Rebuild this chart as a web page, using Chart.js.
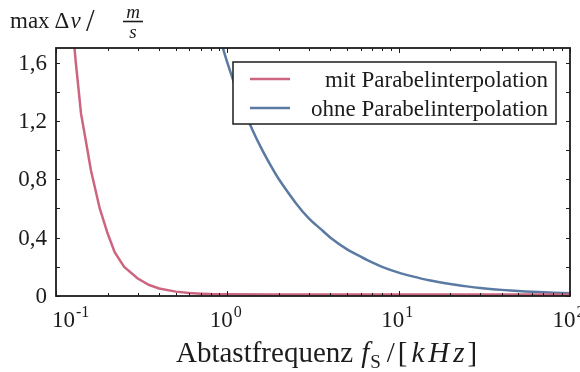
<!DOCTYPE html>
<html>
<head>
<meta charset="utf-8">
<script src="https://cdn.jsdelivr.net/npm/chart.js@4.4.1/dist/chart.umd.min.js"></script>
<style>
  html, body { margin: 0; padding: 0; background: #fff; }
</style>
</head>
<body>
<canvas id="dv" width="580" height="372"></canvas>
<script>
// Abtastfrequenz in kHz, max. Geschwindigkeitsfehler in m/s
var fMit  = [0.1, 0.11, 0.12, 0.13, 0.14, 0.15, 0.16, 0.18, 0.2, 0.22, 0.25, 0.3, 0.35, 0.4, 0.5, 0.6, 0.7, 0.8, 1, 2, 5, 10, 20, 50, 100];
var dvMit = [3.3, 2.7, 2.1, 1.62, 1.25, 1.05, 0.86, 0.6, 0.43, 0.3, 0.2, 0.12, 0.075, 0.052, 0.03, 0.02, 0.016, 0.013, 0.012, 0.011, 0.01, 0.01, 0.01, 0.01, 0.01];

var fOhne  = [0.8, 0.9, 1, 1.2, 1.4, 1.6, 1.8, 2, 2.5, 3, 3.5, 4, 5, 6, 7, 8, 10, 12, 15, 20, 25, 30, 40, 50, 60, 70, 80, 100];
var dvOhne = [2.0, 1.78, 1.6, 1.33, 1.14, 1.0, 0.89, 0.8, 0.64, 0.53, 0.46, 0.4, 0.32, 0.27, 0.23, 0.2, 0.16, 0.135, 0.108, 0.082, 0.066, 0.055, 0.042, 0.034, 0.029, 0.025, 0.022, 0.018];

var labelMit  = "mit Parabelinterpolation";
var labelOhne = "ohne Parabelinterpolation";

var xTicks = [0.1, 1, 10, 100];
var xExponents = ["-1", "0", "1", "2"];
var yTicks = [0, 0.4, 0.8, 1.2, 1.6];
var yTickLabels = ["0", "0,4", "0,8", "1,2", "1,6"];

var colMit = "#cc6680";
var colOhne = "#5b7aa3";
var ink = "#1c1c1c";
var serif = "'Liberation Serif', 'DejaVu Serif', serif";

function toPoints(xs, ys) {
  var pts = [];
  for (var i = 0; i < xs.length; i++) pts.push({ x: xs[i], y: ys[i] });
  return pts;
}

// Text in Stuecken mit eigener Schrift, Versatz und Abstand
function drawParts(ctx, parts, x, y) {
  parts.forEach(function (p) {
    ctx.font = p.f;
    x += p.pre || 0;
    ctx.fillText(p.t, x, y + (p.dy || 0));
    x += ctx.measureText(p.t).width;
  });
}

// Rahmen, Ticks nach innen, Beschriftung und Legende
var framePlugin = {
  id: 'frame',
  afterDraw: function (chart) {
    var ctx = chart.ctx;
    var a = chart.chartArea;
    var xs = chart.scales.x, ys = chart.scales.y;
    ctx.save();

    // Legende
    var lx = 233, ly = 62, lw = 323, lh = 62;
    ctx.fillStyle = '#fff';
    ctx.fillRect(lx, ly, lw, lh);
    ctx.strokeStyle = ink;
    ctx.lineWidth = 1.5;
    ctx.strokeRect(lx, ly, lw, lh);
    var rows = [
      { label: chart.data.datasets[0].label, color: chart.data.datasets[0].borderColor, y: 79 },
      { label: chart.data.datasets[1].label, color: chart.data.datasets[1].borderColor, y: 108 }
    ];
    ctx.font = '23px ' + serif;
    ctx.textAlign = 'right';
    ctx.textBaseline = 'alphabetic';
    rows.forEach(function (r) {
      ctx.strokeStyle = r.color;
      ctx.lineWidth = 2.5;
      ctx.beginPath();
      ctx.moveTo(250, r.y);
      ctx.lineTo(290, r.y);
      ctx.stroke();
      ctx.fillStyle = ink;
      ctx.fillText(r.label, 548, r.y + 8);
    });

    // Rahmen
    ctx.strokeStyle = ink;
    ctx.lineWidth = 1.8;
    ctx.strokeRect(a.left, a.top, a.right - a.left, a.bottom - a.top);

    // Ticks
    ctx.lineWidth = 1;
    ctx.beginPath();
    for (var v = 0; v <= 1.7; v += 0.2) {
      var py = Math.round(ys.getPixelForValue(v)) + 0.5;
      ctx.moveTo(a.left, py); ctx.lineTo(a.left + 4, py);
      ctx.moveTo(a.right, py); ctx.lineTo(a.right - 4, py);
    }
    for (var d = 0.1; d < 100; d *= 10) {
      for (var m = 1; m <= 10; m++) {
        var px = Math.round(xs.getPixelForValue(d * m)) + 0.5;
        var len = (m === 1 || m === 10) ? 5 : 3;
        ctx.moveTo(px, a.bottom); ctx.lineTo(px, a.bottom - len);
        ctx.moveTo(px, a.top); ctx.lineTo(px, a.top + len);
      }
    }
    ctx.stroke();

    // y-Beschriftung
    ctx.fillStyle = ink;
    ctx.font = '23px ' + serif;
    ctx.textAlign = 'right';
    ctx.textBaseline = 'middle';
    yTicks.forEach(function (t, i) {
      ctx.fillText(yTickLabels[i], 47, ys.getPixelForValue(t) + 1);
    });

    // x-Beschriftung als Zehnerpotenzen
    ctx.textAlign = 'left';
    ctx.textBaseline = 'alphabetic';
    xTicks.forEach(function (t, i) {
      var px = xs.getPixelForValue(t);
      ctx.font = '23px ' + serif;
      var w10 = ctx.measureText('10').width;
      var x0 = Math.max(px - w10 / 2 - 6, 52);
      ctx.fillText('10', x0, 327);
      ctx.font = '16px ' + serif;
      ctx.fillText(xExponents[i], x0 + w10 + 1, 317);
    });

    // Achsentitel x
    var big = '29px ' + serif, bigIt = 'italic 29px ' + serif;
    drawParts(ctx, [
      { t: 'Abtastfrequenz', f: big },
      { t: 'f', f: bigIt, pre: 8 },
      { t: 'S', f: '19px ' + serif, dy: 6, pre: 1 },
      { t: '/', f: big, pre: 6 },
      { t: '[', f: big, pre: 3 },
      { t: 'k', f: bigIt, pre: 4 },
      { t: 'H', f: bigIt, pre: 4 },
      { t: 'z', f: bigIt, pre: 4 },
      { t: ']', f: big, pre: 3 }
    ], 176, 362);

    // Achsentitel y
    drawParts(ctx, [
      { t: 'max', f: '23px ' + serif },
      { t: '\u0394', f: '23px ' + serif, pre: 5 },
      { t: 'v', f: 'italic 23px ' + serif, pre: 1 }
    ], 10, 28);
    ctx.font = '31px ' + serif;
    ctx.fillText('/', 86, 31);
    ctx.font = 'italic 19px ' + serif;
    ctx.textAlign = 'center';
    ctx.fillText('m', 133, 18);
    ctx.fillText('s', 133, 38);
    ctx.lineWidth = 1.6;
    ctx.beginPath();
    ctx.moveTo(123, 21.5);
    ctx.lineTo(143, 21.5);
    ctx.stroke();

    ctx.restore();
  }
};

new Chart(document.getElementById('dv'), {
  type: 'line',
  data: {
    datasets: [
      { label: labelMit, data: toPoints(fMit, dvMit), borderColor: colMit, borderWidth: 2.5, pointRadius: 0, tension: 0, fill: false },
      { label: labelOhne, data: toPoints(fOhne, dvOhne), borderColor: colOhne, borderWidth: 2.5, pointRadius: 0, tension: 0.3, fill: false }
    ]
  },
  options: {
    responsive: false,
    devicePixelRatio: 1,
    animation: false,
    layout: { padding: { left: 56, right: 10, top: 48, bottom: 76 } },
    plugins: { legend: { display: false }, tooltip: { enabled: false } },
    scales: {
      x: { type: 'logarithmic', min: 0.1, max: 100, display: false },
      y: { type: 'linear', min: 0, max: 1.7, display: false }
    }
  },
  plugins: [framePlugin]
});
</script>
</body>
</html>
